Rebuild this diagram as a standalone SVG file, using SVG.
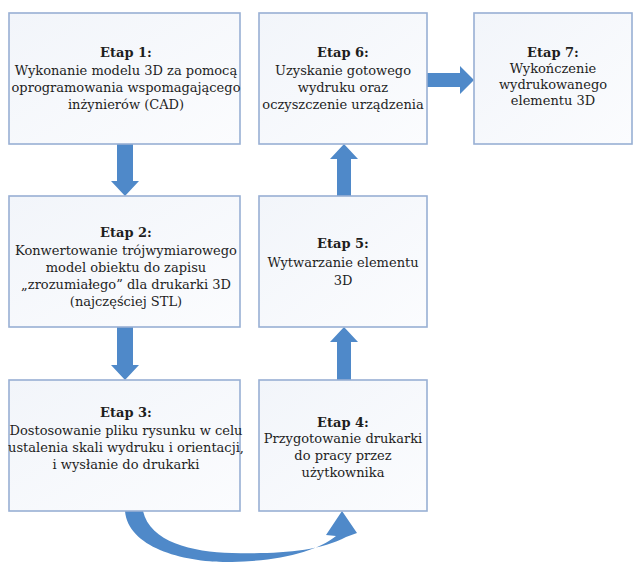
<svg xmlns="http://www.w3.org/2000/svg" width="637" height="563" viewBox="0 0 637 563">
<defs>
<linearGradient id="bg" x1="0" y1="0" x2="1" y2="1">
<stop offset="0" stop-color="#f2f5fa"/>
<stop offset="1" stop-color="#fbfcfe"/>
</linearGradient>
</defs>
<style>
.box{fill:url(#bg);stroke:#98afd4;stroke-width:1.6}
.arr{fill:#4f89c9}
text{font-family:'DejaVu Serif',serif;font-size:13px;fill:#1e1e1e;text-anchor:middle}
.h{font-weight:bold}
</style>
<rect width="637" height="563" fill="#ffffff"/>
<g id="connectors">
<polygon class="arr" points="117,144 133,144 133,181 139,181 125,196 111,181 117,181"/>
<polygon class="arr" points="117,327 133,327 133,365 139,365 125,380 111,365 117,365"/>
<polygon class="arr" points="337,380 351,380 351,342 358,342 344,327 330,342 337,342"/>
<polygon class="arr" points="337,196 351,196 351,159 358,159 344,144 330,159 337,159"/>
<polygon class="arr" points="427,73 460,73 460,66 474,80 460,94 460,87 427,87"/>
<path class="arr" d="M125 511 C128 548 185 563 232 562 C280 561 318 551 336 536 L326 535 L342 511 L357 533 L346 537 C318 552 275 554 232 553 C192 552 150 542 143 511 Z"/>
</g>
<g id="etap1">
<rect class="box" x="9" y="13" width="231" height="131"/>
<text class="h" x="126" y="57">Etap 1:</text>
<text x="126" y="75">Wykonanie modelu 3D za pomocą</text>
<text x="126" y="92">oprogramowania wspomagającego</text>
<text x="126" y="109">inżynierów (CAD)</text>
</g>
<g id="etap2">
<rect class="box" x="9" y="196" width="231" height="131"/>
<text class="h" x="126" y="237">Etap 2:</text>
<text x="126" y="255">Konwertowanie trójwymiarowego</text>
<text x="126" y="272">model obiektu do zapisu</text>
<text x="126" y="289">„zrozumiałego” dla drukarki 3D</text>
<text x="126" y="306">(najczęściej STL)</text>
</g>
<g id="etap3">
<rect class="box" x="9" y="380" width="231" height="131"/>
<text class="h" x="126" y="417">Etap 3:</text>
<text x="126" y="435">Dostosowanie pliku rysunku w celu</text>
<text x="126" y="452">ustalenia skali wydruku i orientacji,</text>
<text x="126" y="469">i wysłanie do drukarki</text>
</g>
<g id="etap4">
<rect class="box" x="259" y="380" width="168" height="131"/>
<text class="h" x="343" y="427">Etap 4:</text>
<text x="343" y="443">Przygotowanie drukarki</text>
<text x="343" y="460">do pracy przez</text>
<text x="343" y="477">użytkownika</text>
</g>
<g id="etap5">
<rect class="box" x="259" y="196" width="168" height="131"/>
<text class="h" x="343" y="248">Etap 5:</text>
<text x="343" y="267">Wytwarzanie elementu</text>
<text x="343" y="285">3D</text>
</g>
<g id="etap6">
<rect class="box" x="259" y="13" width="168" height="131"/>
<text class="h" x="343" y="57">Etap 6:</text>
<text x="343" y="75">Uzyskanie gotowego</text>
<text x="343" y="92">wydruku oraz</text>
<text x="343" y="109">oczyszczenie urządzenia</text>
</g>
<g id="etap7">
<rect class="box" x="474" y="13" width="158" height="131"/>
<text class="h" x="553" y="57">Etap 7:</text>
<text x="553" y="73">Wykończenie</text>
<text x="553" y="89">wydrukowanego</text>
<text x="553" y="105">elementu 3D</text>
</g>
</svg>
